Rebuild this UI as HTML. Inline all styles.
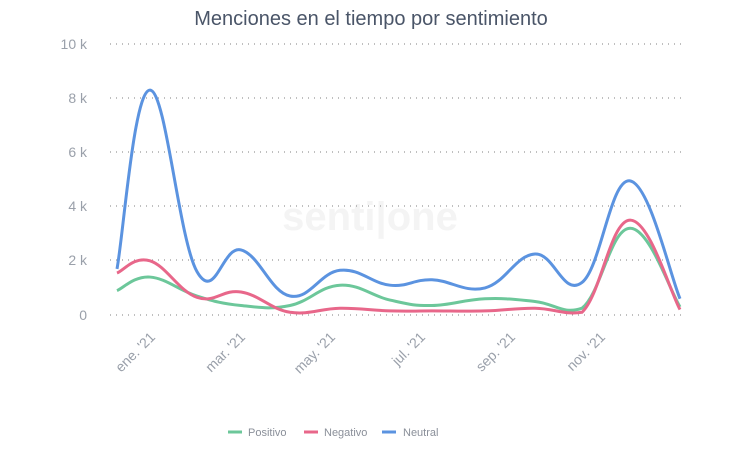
<!DOCTYPE html>
<html><head><meta charset="utf-8"><style>
body{margin:0;background:#fff;width:742px;height:450px;overflow:hidden;font-family:"Liberation Sans",sans-serif}
</style></head><body>
<svg width="742" height="450" xmlns="http://www.w3.org/2000/svg" font-family="Liberation Sans, sans-serif">
<text x="371" y="25" text-anchor="middle" font-size="20" fill="#4a5568">Menciones en el tiempo por sentimiento</text>
<text x="370" y="230" text-anchor="middle" font-size="40" fill="#f4f4f4" font-weight="bold">senti|one</text>
<g stroke="#999" stroke-width="1.3" stroke-dasharray="1,5">
<line x1="110" y1="44" x2="684" y2="44"/><line x1="110" y1="98" x2="684" y2="98"/>
<line x1="110" y1="152" x2="684" y2="152"/><line x1="110" y1="206" x2="684" y2="206"/>
<line x1="110" y1="260" x2="684" y2="260"/><line x1="110" y1="315" x2="684" y2="315"/>
</g>
<g font-size="14" fill="#9aa0aa" text-anchor="end">
<text x="87" y="49">10 k</text><text x="87" y="103">8 k</text><text x="87" y="157">6 k</text>
<text x="87" y="211">4 k</text><text x="87" y="265">2 k</text><text x="87" y="320">0</text>
</g>
<g font-size="14" fill="#9aa0aa" text-anchor="end">
<text transform="translate(156,338) rotate(-45)">ene. '21</text>
<text transform="translate(246,338) rotate(-45)">mar. '21</text>
<text transform="translate(336,338) rotate(-45)">may. '21</text>
<text transform="translate(426,338) rotate(-45)">jul. '21</text>
<text transform="translate(516,338) rotate(-45)">sep. '21</text>
<text transform="translate(606,338) rotate(-45)">nov. '21</text>
</g>
<path id="pos" fill="none" stroke="#6cc79a" stroke-width="3"/>
<path id="neg" fill="none" stroke="#e8678a" stroke-width="3"/>
<path id="neu" fill="none" stroke="#5b93e0" stroke-width="3"/>
<g font-size="11" fill="#8a8f99">
<line x1="228" y1="432" x2="242" y2="432" stroke="#6cc79a" stroke-width="3"/><text x="248" y="436">Positivo</text>
<line x1="304" y1="432" x2="318" y2="432" stroke="#e8678a" stroke-width="3"/><text x="324" y="436">Negativo</text>
<line x1="382" y1="432" x2="396" y2="432" stroke="#5b93e0" stroke-width="3"/><text x="403" y="436">Neutral</text>
</g>
</svg>
<script>
var xs=[117,150,197,241,290,340,390,432,485,535,582,630,680];
var d={neu:[1.7,8.3,1.6,2.4,0.7,1.65,1.1,1.3,1.0,2.25,1.2,4.95,0.6],
pos:[0.9,1.4,0.7,0.35,0.35,1.1,0.55,0.35,0.6,0.5,0.25,3.2,0.3],
neg:[1.55,2.0,0.65,0.85,0.1,0.25,0.15,0.15,0.15,0.25,0.1,3.5,0.2]};
for(var k in d){var p=xs.map(function(x,i){return [x,315-27.1*d[k][i]]});
var s="M"+p[0][0]+","+p[0][1];
function cl(y,a,b){var lo=Math.min(a,b),hi=Math.max(a,b);return Math.max(lo,Math.min(hi,y));}
for(var i=0;i<p.length-1;i++){var p0=p[Math.max(0,i-1)],p1=p[i],p2=p[i+1],p3=p[Math.min(p.length-1,i+2)];
var t=5;
var c1y=p1[1]+(p2[1]-p0[1])/t, c2y=p2[1]-(p3[1]-p1[1])/t;
if(k!="neu"){c1y=Math.min(c1y,315);c2y=Math.min(c2y,315);}
s+=" C"+(p1[0]+(p2[0]-p0[0])/t)+","+c1y+" "+(p2[0]-(p3[0]-p1[0])/t)+","+c2y+" "+p2[0]+","+p2[1];}
document.getElementById(k).setAttribute("d",s);}
</script>
</body></html>
